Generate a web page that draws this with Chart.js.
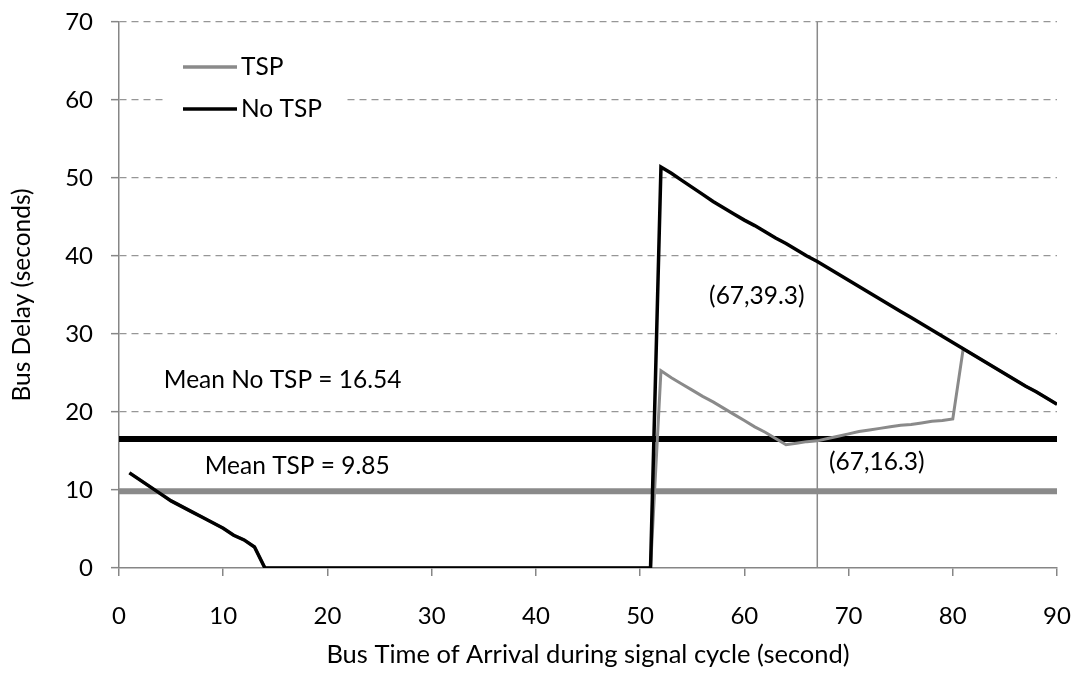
<!DOCTYPE html>
<html>
<head>
<meta charset="utf-8">
<script src="https://cdn.jsdelivr.net/npm/chart.js@4.4.1/dist/chart.umd.min.js"></script>
<style>
html,body{margin:0;padding:0;background:#fff;}
#wrap{width:1076px;height:685px;}
</style>
</head>
<body>
<div id="wrap"><canvas id="c" width="1076" height="685"></canvas></div>
<script>
// ---- data ----
const arrivalTimes = [1,2,3,4,5,6,7,8,9,10,11,12,13,14,15,16,17,18,19,20,21,22,23,24,25,26,27,28,29,30,31,32,33,34,35,36,37,38,39,40,41,42,43,44,45,46,47,48,49,50,51,52,53,54,55,56,57,58,59,60,61,62,63,64,65,66,67,68,69,70,71,72,73,74,75,76,77,78,79,80,81,82,83,84,85,86,87,88,89,90];
const delayNoTSP = [12.2,11.3,10.4,9.5,8.6,7.9,7.2,6.5,5.8,5.1,4.2,3.6,2.7,0,0,0,0,0,0,0,0,0,0,0,0,0,0,0,0,0,0,0,0,0,0,0,0,0,0,0,0,0,0,0,0,0,0,0,0,0,0,51.4,50.6,49.7,48.8,47.9,47.0,46.2,45.4,44.6,43.9,43.1,42.3,41.6,40.8,40.0,39.3,38.5,37.7,36.9,36.1,35.3,34.5,33.7,32.9,32.1,31.3,30.5,29.7,28.9,28.1,27.3,26.5,25.7,24.9,24.1,23.3,22.6,21.8,21.0];
const delayTSP = [12.2,11.3,10.4,9.5,8.6,7.9,7.2,6.5,5.8,5.1,4.2,3.6,2.7,0,0,0,0,0,0,0,0,0,0,0,0,0,0,0,0,0,0,0,0,0,0,0,0,0,0,0,0,0,0,0,0,0,0,0,0,0,0,25.3,24.4,23.6,22.8,22.0,21.3,20.5,19.7,18.9,18.1,17.4,16.6,15.8,16.0,16.2,16.3,16.6,16.9,17.2,17.5,17.7,17.9,18.1,18.3,18.4,18.6,18.8,18.9,19.1,28.1,27.3,26.5,25.7,24.9,24.1,23.3,22.6,21.8,21.0];
const meanNoTSP = 16.54;
const meanTSP = 9.85;
const markerX = 67;
const markerTSP = 16.3;
const markerNoTSP = 39.3;
const xTicks = [0,10,20,30,40,50,60,70,80,90];
const yTicks = [0,10,20,30,40,50,60,70];
const seriesLabels = ['TSP','No TSP'];

const FONT = 'Lato';
const TICK_SIZE = 24;
const TEXT_SIZE = 24.5;
const TITLE_SIZE = 25.5;
const toPts = (xs, ys) => xs.map((x, i) => ({x, y: ys[i]}));

const annotations = [
  {text: 'Mean No TSP = ' + meanNoTSP, x: 15.7, y: 24.1},
  {text: 'Mean TSP = ' + meanTSP, x: 17.1, y: 13.1},
  {text: '(' + markerX + ',' + markerNoTSP + ')', x: 61.2, y: 34.9},
  {text: '(' + markerX + ',' + markerTSP + ')', x: 72.7, y: 13.6}
];

const annotPlugin = {
  id: 'annot',
  afterDatasetsDraw(chart) {
    const {ctx, scales} = chart;
    ctx.save();
    ctx.font = TEXT_SIZE + 'px ' + FONT;
    ctx.fillStyle = '#000';
    ctx.textAlign = 'center';
    ctx.textBaseline = 'middle';
    annotations.forEach(a => {
      ctx.fillText(a.text, scales.x.getPixelForValue(a.x), scales.y.getPixelForValue(a.y));
    });
    // legend inside plot area
    const ca = chart.chartArea;
    const bx = ca.left + 44, by = ca.top + 18, bw = 182, bh = 92;
    ctx.fillStyle = '#fff';
    ctx.fillRect(bx, by, bw, bh);
    const items = [
      {label: chart.data.datasets[1].label, color: chart.data.datasets[1].borderColor, w: 3.5, y: ca.top + 45},
      {label: chart.data.datasets[0].label, color: chart.data.datasets[0].borderColor, w: 3.5, y: ca.top + 87}
    ];
    items.forEach(it => {
      ctx.strokeStyle = it.color;
      ctx.lineWidth = it.w;
      ctx.beginPath();
      ctx.moveTo(ca.left + 64, it.y);
      ctx.lineTo(ca.left + 118, it.y);
      ctx.stroke();
      ctx.fillStyle = '#000';
      ctx.textAlign = 'left';
      ctx.fillText(it.label, ca.left + 122, it.y);
    });
    ctx.restore();
  }
};

const GRAY = '#8a8a8a';
const AXIS = '#868686';

new Chart(document.getElementById('c'), {
  type: 'line',
  data: {
    datasets: [
      {label: seriesLabels[1], data: toPts(arrivalTimes, delayNoTSP), borderColor: '#000', borderWidth: 3.5, pointRadius: 0, order: 0, tension: 0},
      {label: seriesLabels[0], data: toPts(arrivalTimes, delayTSP), borderColor: GRAY, borderWidth: 3, pointRadius: 0, order: 1, tension: 0},
      {label: 'Mean No TSP', data: [{x: xTicks[0], y: meanNoTSP}, {x: xTicks[xTicks.length-1], y: meanNoTSP}], borderColor: '#000', borderWidth: 6, pointRadius: 0, order: 2},
      {label: 'Mean TSP', data: [{x: xTicks[0], y: meanTSP}, {x: xTicks[xTicks.length-1], y: meanTSP}], borderColor: GRAY, borderWidth: 6, pointRadius: 0, order: 3},
      {label: 'Marker', data: [{x: markerX, y: yTicks[0]}, {x: markerX, y: yTicks[yTicks.length-1]}], borderColor: GRAY, borderWidth: 1.5, pointRadius: 0, order: 4}
    ]
  },
  options: {
    responsive: false,
    animation: false,
    events: [],
    layout: {padding: {top: 22, right: 19, left: 0, bottom: 0}},
    plugins: {legend: {display: false}, tooltip: {enabled: false}},
    scales: {
      x: {
        type: 'linear', min: 0, max: 90,
        afterBuildTicks: s => { s.ticks = xTicks.map(v => ({value: v})); },
        afterFit: s => { s.height = 117; s.paddingLeft = 0; s.paddingRight = 0; },
        ticks: {color: '#000', font: {family: FONT, size: TICK_SIZE}, padding: 26, maxRotation: 0},
        grid: {drawOnChartArea: false, drawTicks: true, tickLength: 8, tickColor: AXIS, lineWidth: 1.5},
        border: {color: AXIS, width: 1.5},
        title: {display: true, text: 'Bus Time of Arrival during signal cycle (second)', color: '#000', font: {family: FONT, size: TITLE_SIZE}, padding: {top: 4, bottom: 15}}
      },
      y: {
        type: 'linear', min: 0, max: 70,
        afterBuildTicks: s => { s.ticks = yTicks.map(v => ({value: v})); },
        afterFit: s => { s.width = 119; s.paddingTop = 0; s.paddingBottom = 0; },
        ticks: {color: '#000', font: {family: FONT, size: TICK_SIZE}, padding: 18},
        grid: {
          color: ctx => ctx.tick && ctx.tick.value === 0 ? 'rgba(0,0,0,0)' : '#969696',
          lineWidth: 1.3, tickLength: 8, tickColor: AXIS, tickBorderDash: [], tickWidth: 1.5
        },
        border: {color: AXIS, width: 1.5, dash: [7, 5]},
        title: {display: true, text: 'Bus Delay (seconds)', color: '#000', font: {family: FONT, size: TEXT_SIZE}, padding: {top: 7, bottom: 0}}
      }
    }
  },
  plugins: [annotPlugin]
});
</script>
</body>
</html>
